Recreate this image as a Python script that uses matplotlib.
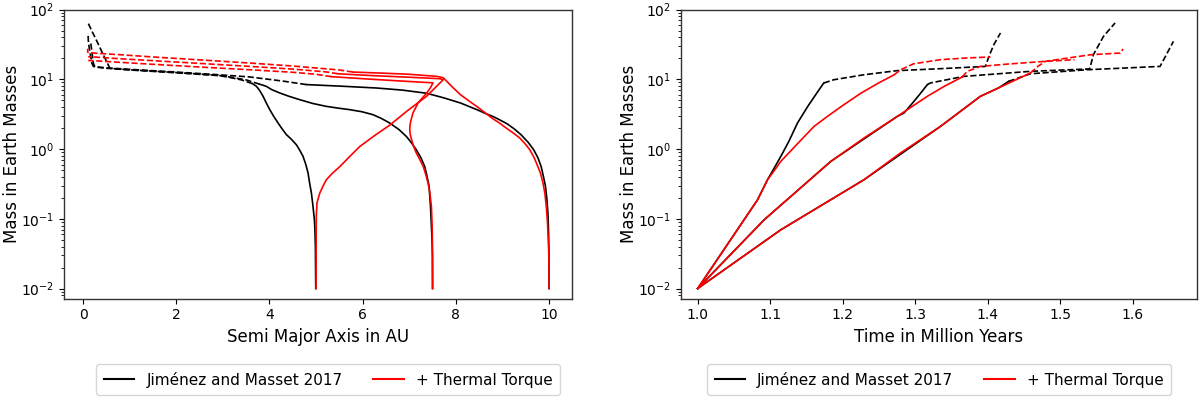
import matplotlib
matplotlib.use('Agg')
import matplotlib.pyplot as plt
from matplotlib.lines import Line2D

# ---------------- legend labels ----------------
label_jm = "Jiménez and Masset 2017"
label_tt = "+ Thermal Torque"

# ================= LEFT PANEL: mass vs semi-major axis =================
# Jiménez & Masset 2017 (black)
a_bA_sol = [4.993, 4.985, 4.975, 4.964, 4.93, 4.90, 4.86, 4.828, 4.78, 4.72, 4.65, 4.578, 4.47, 4.363, 4.27, 4.185, 4.09, 4.006, 3.93, 3.863, 3.79, 3.72, 3.634]
m_bA_sol = [0.01, 0.04, 0.07, 0.097, 0.16, 0.233, 0.33, 0.453, 0.6, 0.785, 0.96, 1.15, 1.38, 1.61, 1.95, 2.36, 2.95, 3.67, 4.6, 5.7, 6.9, 7.94, 8.67]
a_bA_das = [3.634, 3.4, 3.1, 2.9, 2.0, 1.0, 0.5, 0.3, 0.22, 0.19, 0.17, 0.14, 0.115, 0.105]
m_bA_das = [8.67, 9.8, 10.8, 11.3, 12.4, 13.6, 14.4, 14.9, 15.3, 17.0, 20.0, 26.0, 34.0, 46.0]

a_bB_sol = [7.5, 7.497, 7.488, 7.475, 7.455, 7.425, 7.38, 7.33, 7.25, 7.15, 7.05, 6.94, 6.78, 6.58, 6.4, 6.22, 5.98, 5.72, 5.45, 5.22, 4.93, 4.65, 4.42, 4.22, 4.05, 3.93, 3.79]
m_bB_sol = [0.01, 0.03, 0.05, 0.078, 0.15, 0.291, 0.41, 0.564, 0.75, 0.977, 1.22, 1.51, 1.9, 2.36, 2.75, 3.11, 3.43, 3.67, 3.88, 4.09, 4.5, 5.1, 5.7, 6.37, 7.1, 7.94, 8.5]
a_bB_das = [3.79, 3.5, 3.1, 2.9, 2.0, 1.0, 0.7, 0.573, 0.45, 0.3, 0.2, 0.107]
m_bB_das = [8.5, 9.8, 10.9, 11.4, 12.5, 13.7, 14.1, 14.5, 21.4, 34.7, 47.6, 64.3]

a_bC_sol = [10.0, 9.997, 9.99, 9.975, 9.95, 9.92, 9.88, 9.83, 9.76, 9.67, 9.55, 9.4, 9.25, 9.1, 8.95, 8.81, 8.63, 8.45, 8.1, 7.75, 7.37, 6.85, 6.3, 5.58, 4.79]
m_bC_sol = [0.01, 0.03, 0.06, 0.12, 0.2, 0.3, 0.4, 0.56, 0.75, 0.977, 1.25, 1.6, 1.95, 2.3, 2.6, 2.9, 3.25, 3.67, 4.57, 5.4, 6.31, 7.0, 7.5, 7.94, 8.4]
a_bC_das = [4.79, 4.3, 3.58, 2.93, 2.0, 1.0, 0.5, 0.3, 0.25, 0.22, 0.2, 0.18, 0.16]
m_bC_das = [8.4, 9.4, 10.8, 11.6, 12.7, 13.9, 14.6, 15.0, 15.3, 17.0, 22.0, 28.0, 35.0]

# + Thermal Torque (red)
a_rA_sol = [5.0, 5.001, 5.002, 5.005, 5.02, 5.08, 5.15, 5.22, 5.35, 5.51, 5.72, 5.94, 6.25, 6.58, 6.95, 7.37, 7.55, 7.73, 7.65, 7.0, 6.2, 5.47]
m_rA_sol = [0.01, 0.03, 0.06, 0.11, 0.17, 0.234, 0.295, 0.363, 0.45, 0.56, 0.78, 1.09, 1.55, 2.2, 3.5, 5.7, 7.5, 9.9, 10.2, 10.7, 11.3, 12.0]
a_rA_das = [5.47, 5.2, 4.5, 3.58, 2.5, 1.5, 0.8, 0.215, 0.11]
m_rA_das = [12.0, 12.8, 14.0, 15.3, 16.9, 18.5, 19.7, 20.9, 21.0]

a_rB_sol = [7.5, 7.497, 7.49, 7.475, 7.44, 7.40, 7.35, 7.30, 7.22, 7.15, 7.09, 7.05, 7.02, 7.01, 7.015, 7.03, 7.08, 7.19, 7.28, 7.37, 7.45, 7.51, 7.0, 6.2, 5.33]
m_rB_sol = [0.01, 0.04, 0.08, 0.15, 0.24, 0.33, 0.44, 0.56, 0.72, 0.88, 1.1, 1.36, 1.62, 1.9, 2.15, 2.5, 3.3, 4.6, 5.4, 6.3, 7.5, 8.9, 9.3, 10.0, 10.9]
a_rB_das = [5.33, 5.0, 4.5, 3.58, 2.5, 1.5, 0.8, 0.215, 0.11]
m_rB_das = [10.9, 11.8, 12.6, 13.7, 15.0, 16.4, 17.5, 18.5, 18.6]

a_rC_sol = [10.0, 9.997, 9.986, 9.965, 9.94, 9.91, 9.87, 9.82, 9.76, 9.68, 9.585, 9.48, 9.37, 9.23, 9.08, 8.94, 8.8, 8.63, 8.45, 8.28, 8.1, 7.92, 7.73, 7.6, 7.0, 6.5, 5.79]
m_rC_sol = [0.01, 0.025, 0.045, 0.09, 0.15, 0.23, 0.325, 0.44, 0.56, 0.75, 0.98, 1.2, 1.44, 1.7, 2.0, 2.35, 2.7, 3.3, 4.07, 4.9, 6.0, 7.8, 10.5, 11.0, 11.8, 12.2, 12.7]
a_rC_das = [5.79, 5.5, 4.5, 3.58, 2.5, 1.5, 0.8, 0.215, 0.12, 0.10, 0.10]
m_rC_das = [12.7, 13.6, 15.5, 17.1, 19.0, 20.9, 22.5, 23.8, 24.1, 24.5, 27.5]

# ================= RIGHT PANEL: mass vs time =================
t_bA_sol = [1.0, 1.0826, 1.0964, 1.105, 1.1147, 1.126, 1.1377, 1.152, 1.1675, 1.174]
m_bA_sol_t = [0.01, 0.187, 0.363, 0.52, 0.783, 1.3, 2.36, 4.1, 7.08, 8.85]
t_bA_das = [1.174, 1.188, 1.229, 1.275, 1.335, 1.397, 1.402, 1.4086, 1.4178]
m_bA_das_t = [8.85, 9.86, 11.6, 13.3, 14.2, 15.3, 21.4, 31.3, 46.1]

t_bB_sol = [1.0, 1.0918, 1.1836, 1.2755, 1.2846, 1.296, 1.3076, 1.3168]
m_bB_sol_t = [0.01, 0.0968, 0.664, 2.94, 3.28, 4.5, 6.31, 8.36]
t_bB_das = [1.3168, 1.321, 1.367, 1.459, 1.541, 1.546, 1.56, 1.576]
m_bB_das_t = [8.36, 8.85, 11.0, 13.0, 14.1, 22.5, 41.3, 64.3]

t_bC_sol = [1.0, 1.1147, 1.2295, 1.335, 1.39, 1.415, 1.429]
m_bC_sol_t = [0.01, 0.0695, 0.363, 2.11, 5.69, 7.5, 9.33]
t_bC_das = [1.429, 1.459, 1.537, 1.638, 1.643, 1.6565]
m_bC_das_t = [9.33, 12.0, 13.7, 15.3, 19.1, 35.0]

t_rA_sol = [1.0, 1.0826, 1.0964, 1.105, 1.1147, 1.13, 1.145, 1.1606, 1.179, 1.20, 1.225, 1.25, 1.271]
m_rA_sol_t = [0.01, 0.187, 0.363, 0.48, 0.665, 0.98, 1.43, 2.11, 2.94, 4.2, 6.3, 8.9, 11.6]
t_rA_das = [1.271, 1.28, 1.298, 1.335, 1.37, 1.404]
m_rA_das_t = [11.6, 13.7, 16.7, 19.1, 20.2, 20.9]

t_rB_sol = [1.0, 1.0918, 1.1836, 1.23, 1.2755, 1.3168, 1.34, 1.365]
m_rB_sol_t = [0.01, 0.0968, 0.664, 1.45, 2.94, 5.69, 7.9, 10.8]
t_rB_das = [1.365, 1.372, 1.39, 1.43, 1.48, 1.52]
m_rB_das_t = [10.8, 13.0, 15.3, 16.6, 18.1, 19.1]

t_rC_sol = [1.0, 1.1147, 1.2295, 1.28, 1.335, 1.39, 1.425, 1.459]
m_rC_sol_t = [0.01, 0.0695, 0.363, 0.88, 2.11, 5.69, 8.4, 12.3]
t_rC_das = [1.459, 1.47, 1.48, 1.542, 1.583, 1.587]
m_rC_das_t = [12.3, 15.5, 18.1, 22.5, 23.8, 27.2]

# ---------------- drawing ----------------
plt.rcParams['font.family'] = ['DejaVu Sans']
LW = 1.2

fig = plt.figure(figsize=(12, 3.98), dpi=100)
ax1 = fig.add_axes([0.0533, 0.25, 0.4233, 0.726])
ax2 = fig.add_axes([0.5675, 0.25, 0.43, 0.726])

left_black = [(a_bA_sol, m_bA_sol, a_bA_das, m_bA_das),
              (a_bB_sol, m_bB_sol, a_bB_das, m_bB_das),
              (a_bC_sol, m_bC_sol, a_bC_das, m_bC_das)]
left_red = [(a_rA_sol, m_rA_sol, a_rA_das, m_rA_das),
            (a_rB_sol, m_rB_sol, a_rB_das, m_rB_das),
            (a_rC_sol, m_rC_sol, a_rC_das, m_rC_das)]
right_black = [(t_bA_sol, m_bA_sol_t, t_bA_das, m_bA_das_t),
               (t_bB_sol, m_bB_sol_t, t_bB_das, m_bB_das_t),
               (t_bC_sol, m_bC_sol_t, t_bC_das, m_bC_das_t)]
right_red = [(t_rA_sol, m_rA_sol_t, t_rA_das, m_rA_das_t),
             (t_rB_sol, m_rB_sol_t, t_rB_das, m_rB_das_t),
             (t_rC_sol, m_rC_sol_t, t_rC_das, m_rC_das_t)]

for ax, blk, red, legx, labx in [(ax1, left_black, left_red, 0.52, -0.0845),
                                 (ax2, right_black, right_red, 0.5, -0.0825)]:
    for xs, ms, xd, md in blk:
        ax.plot(xs, ms, color='black', lw=LW, ls='-')
        ax.plot(xd, md, color='black', lw=LW, ls='--')
    for xs, ms, xd, md in red:
        ax.plot(xs, ms, color='red', lw=LW, ls='-')
        ax.plot(xd, md, color='red', lw=LW, ls='--')
    ax.set_yscale('log')
    ax.set_ylim(10 ** -2.143, 100)
    ax.set_ylabel('Mass in Earth Masses', fontsize=12)
    ax.yaxis.set_label_coords(labx, 0.5)
    ax.tick_params(labelsize=10)
    for s in ax.spines.values():
        s.set_color('#333333')
        s.set_linewidth(1.0)
    handles = [Line2D([], [], color='black', lw=1.5), Line2D([], [], color='red', lw=1.5)]
    ax.legend(handles, [label_jm, label_tt], loc='upper center',
              bbox_to_anchor=(legx, -0.20), ncol=2, fontsize=11, frameon=True,
              borderpad=0.5)

ax1.set_xlim(-0.41, 10.49)
ax1.set_xlabel('Semi Major Axis in AU', fontsize=12)
ax2.set_xlim(0.977, 1.689)
ax2.set_xlabel('Time in Million Years', fontsize=12)

fig.savefig('out.png', dpi=100)
